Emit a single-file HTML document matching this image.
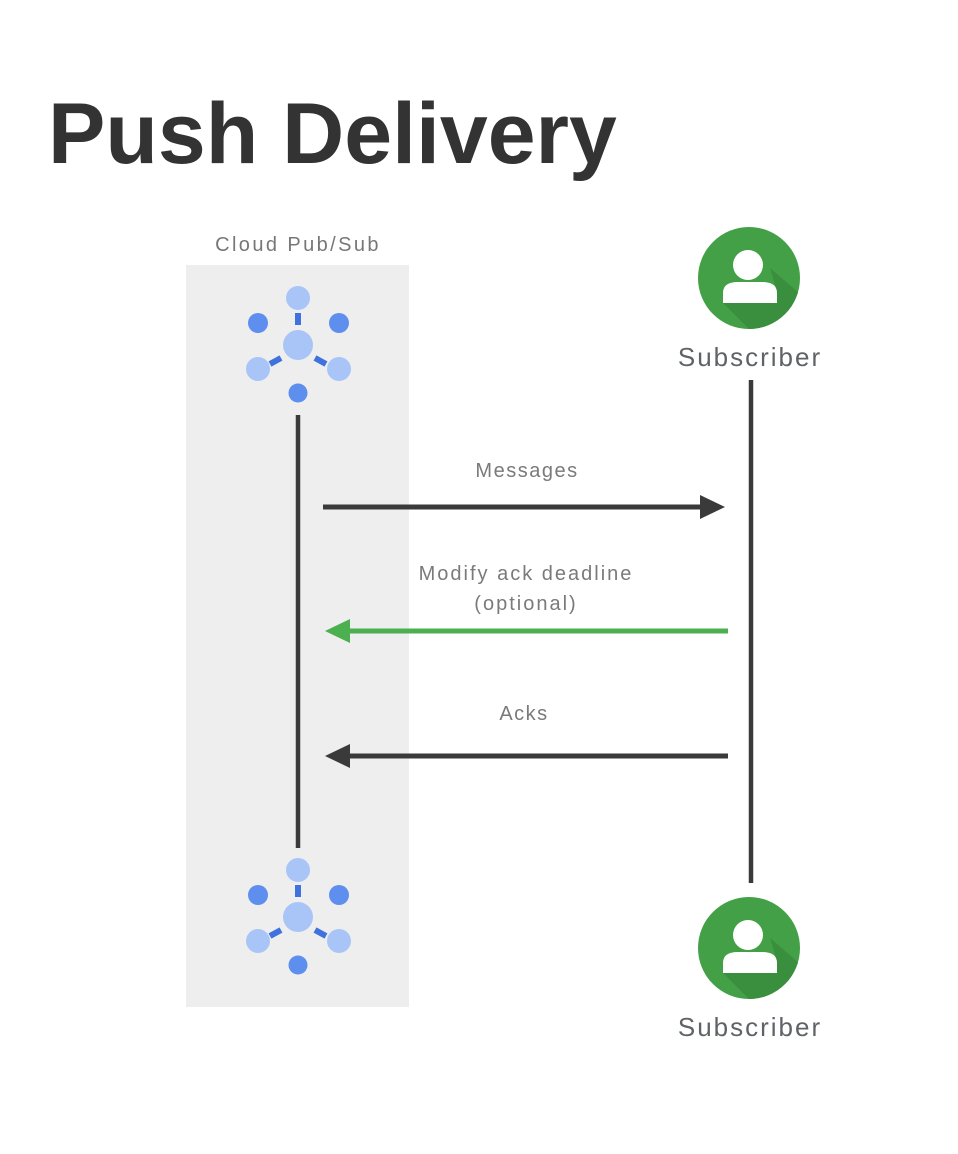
<!DOCTYPE html>
<html>
<head>
<meta charset="utf-8">
<style>
  html,body{margin:0;padding:0;background:#ffffff;}
  body{width:958px;height:1154px;overflow:hidden;}
  svg{display:block;}
  text{font-family:"Liberation Sans",sans-serif;}
</style>
</head>
<body>
<svg width="958" height="1154" viewBox="0 0 958 1154" xmlns="http://www.w3.org/2000/svg">
  <defs>
    <clipPath id="c1"><circle cx="749" cy="278" r="51"/></clipPath>
    <clipPath id="c2"><circle cx="749" cy="948" r="51"/></clipPath>
    <g id="ps">
      <!-- connectors -->
      <rect x="-3" y="-32" width="6" height="12" fill="#3f72dd"/>
      <line x1="-28" y1="19" x2="-17" y2="13" stroke="#3f72dd" stroke-width="6"/>
      <line x1="28" y1="19" x2="17" y2="13" stroke="#3f72dd" stroke-width="6"/>
      <!-- nodes -->
      <circle cx="0" cy="-47" r="12" fill="#a9c5f7"/>
      <circle cx="-40" cy="-22" r="10" fill="#5e8fef"/>
      <circle cx="41" cy="-22" r="10" fill="#5e8fef"/>
      <circle cx="0" cy="0" r="15" fill="#a9c5f7"/>
      <circle cx="-40" cy="24" r="12" fill="#a9c5f7"/>
      <circle cx="41" cy="24" r="12" fill="#a9c5f7"/>
      <circle cx="0" cy="48" r="9.5" fill="#5e8fef"/>
    </g>
  </defs>

  <!-- Title -->
  <text x="48" y="163" font-size="86" font-weight="bold" fill="#333333">Push Delivery</text>

  <!-- Pub/Sub column -->
  <text x="298" y="251" font-size="20" fill="#777777" text-anchor="middle" letter-spacing="2.4">Cloud Pub/Sub</text>
  <rect x="186" y="265" width="223" height="742" fill="#eeeeee"/>

  <use href="#ps" x="298" y="345"/>
  <use href="#ps" x="298" y="917"/>

  <!-- lifelines -->
  <line x1="298" y1="415" x2="298" y2="848" stroke="#3a3a3a" stroke-width="4.5"/>
  <line x1="751" y1="380" x2="751" y2="883" stroke="#3a3a3a" stroke-width="4.5"/>

  <!-- Subscriber top -->
  <circle cx="749" cy="278" r="51" fill="#43a047"/>
  <polygon clip-path="url(#c1)" points="770,268 777,292 777,303 723,303 823,403 900,403 900,380" fill="#3a8f3e"/>
  <circle cx="748" cy="265" r="15" fill="#ffffff"/>
  <path d="M723 303 V293 Q723 282 738 282 H762 Q777 282 777 293 V303 Z" fill="#ffffff"/>
  <text x="750" y="366" font-size="26" fill="#5f6368" text-anchor="middle" letter-spacing="2">Subscriber</text>

  <!-- Subscriber bottom -->
  <circle cx="749" cy="948" r="51" fill="#43a047"/>
  <polygon clip-path="url(#c2)" points="770,938 777,962 777,973 723,973 823,1073 900,1073 900,1050" fill="#3a8f3e"/>
  <circle cx="748" cy="935" r="15" fill="#ffffff"/>
  <path d="M723 973 V963 Q723 952 738 952 H762 Q777 952 777 963 V973 Z" fill="#ffffff"/>
  <text x="750" y="1036" font-size="26" fill="#5f6368" text-anchor="middle" letter-spacing="2">Subscriber</text>

  <!-- Messages arrow -->
  <text x="527" y="477" font-size="20" fill="#7a7a7a" text-anchor="middle" letter-spacing="1.5">Messages</text>
  <line x1="323" y1="507" x2="704" y2="507" stroke="#3a3a3a" stroke-width="5"/>
  <polygon points="700,495 725,507 700,519" fill="#3a3a3a"/>

  <!-- Modify ack deadline arrow -->
  <text x="526" y="580" font-size="20" fill="#7a7a7a" text-anchor="middle" letter-spacing="2">Modify ack deadline</text>
  <text x="526" y="610" font-size="20" fill="#7a7a7a" text-anchor="middle" letter-spacing="2">(optional)</text>
  <line x1="346" y1="631" x2="728" y2="631" stroke="#4caf50" stroke-width="5"/>
  <polygon points="350,619 325,631 350,643" fill="#4caf50"/>

  <!-- Acks arrow -->
  <text x="524" y="720" font-size="20" fill="#7a7a7a" text-anchor="middle" letter-spacing="1.5">Acks</text>
  <line x1="346" y1="756" x2="728" y2="756" stroke="#3a3a3a" stroke-width="5"/>
  <polygon points="350,744 325,756 350,768" fill="#3a3a3a"/>
</svg>
</body>
</html>
